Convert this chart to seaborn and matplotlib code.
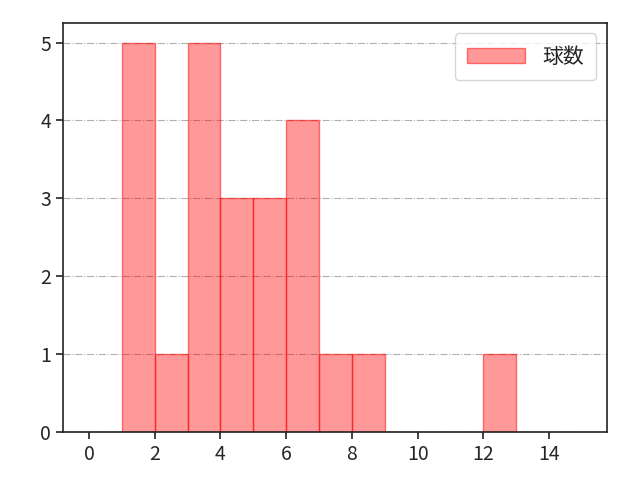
import numpy as np
import pandas as pd
import matplotlib
matplotlib.use("Agg")
import matplotlib.pyplot as plt
import seaborn as sns

# pitch counts per bin (bin width 1, left edges)
bin_left = [1, 2, 3, 4, 5, 6, 7, 8, 12]
counts = [5, 1, 5, 3, 3, 4, 1, 1, 1]
bin_edges = list(range(0, 16))

sns.set_style("ticks")
plt.rcParams['font.family'] = ['Noto Sans CJK JP', 'DejaVu Sans']

df = pd.DataFrame({"球数": bin_left, "count": counts})

fig, ax = plt.subplots(figsize=(6.4, 4.8), dpi=100)
fig.subplots_adjust(left=0.098, right=0.948, top=0.952, bottom=0.1)
sns.histplot(data=df, x="球数", weights="count", bins=bin_edges, color="red",
             alpha=0.4, edgecolor=(1, 0, 0, 0.5), linewidth=1.0, label="球数", ax=ax)

ax.yaxis.grid(True, linestyle="-.", color="#b0b0b0", linewidth=0.8)
ax.set_axisbelow(True)
ax.set_xlabel("")
ax.set_ylabel("")
ax.set_xticks(range(0, 16, 2))
ax.set_xlim(-0.8, 15.75)
ax.tick_params(labelsize=14, width=1.2, length=5, color="#222222")
for s in ax.spines.values():
    s.set_linewidth(1.2)
    s.set_color("#222222")
ax.legend(loc="upper right", fontsize=15, handlelength=2.8, borderpad=0.6)

plt.savefig("out.png", dpi=100)
plt.close()
